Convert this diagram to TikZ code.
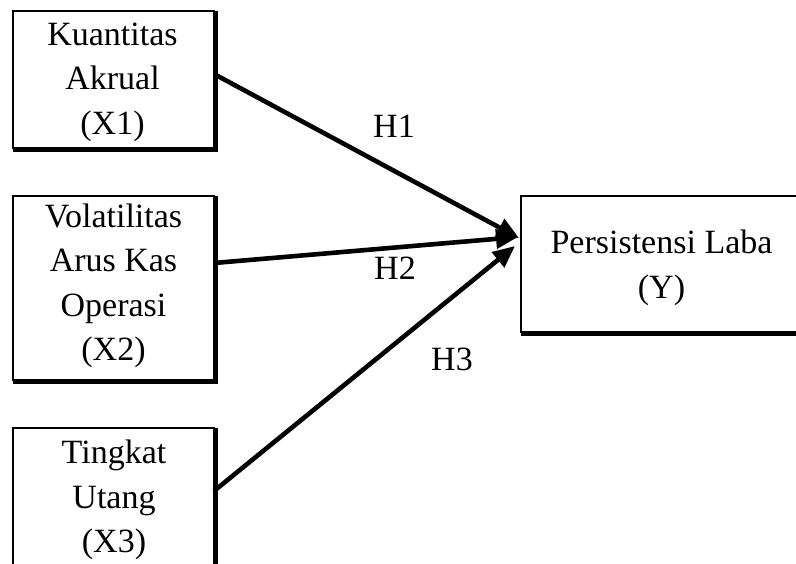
\documentclass[tikz,border=0pt]{standalone}
\usepackage{fontspec}
\setmainfont{Liberation Serif}
\usetikzlibrary{arrows.meta,calc}
\tikzset{
  boxshape/.style={draw=black, line width=1.6pt, rectangle, inner sep=0pt, outer sep=0pt},
  shadowline/.style={draw=black, line width=3.8pt},
  boxtext/.style={align=center, inner sep=0pt, font=\fontsize{34}{44.5}\selectfont},
  hlabel/.style={inner sep=0pt, font=\fontsize{34}{40}\selectfont},
  link/.style={draw=black, line width=4.6pt, -{Triangle[length=22pt,width=19pt]}}
}
\begin{document}
\begin{tikzpicture}[x=1pt,y=-1pt]
\useasboundingbox (0,0) rectangle (796,563);
\clip (0,0) rectangle (796,563);
\fill[white] (0,0) rectangle (796,563);
% boxes
\node[boxshape, minimum width=201pt, minimum height=137pt] (x1) at (113.5,79.5) {};
\node[boxshape, minimum width=201pt, minimum height=184pt] (x2) at (113.5,288) {};
\node[boxshape, minimum width=201pt, minimum height=172pt] (x3) at (113.5,514) {};
\node[boxshape, minimum width=284pt, minimum height=136pt] (y) at (663,264) {};
% shadows (thick right and bottom edges)
\foreach \b in {x1,x2,x3,y}{
  \draw[shadowline] ($(\b.north east)+(2,-0.5)$) -- ($(\b.south east)+(2,2)$) -- ($(\b.south west)+(-0.5,2)$);
}
% texts
\node[boxtext] (t1) at (112.5,82.3) {Kuantitas\\Akrual\\(X1)};
\node[boxtext] (t2) at (113.5,285.6) {Volatilitas\\Arus Kas\\Operasi\\(X2)};
\node[boxtext] (t3) at (114,499.9) {Tingkat\\Utang\\(X3)};
\node[boxtext] (ty) at (661.5,267.9) {Persistensi Laba\\(Y)};
% connectors
\draw[link] ([yshift=5.5pt]x1.east) -- ([xshift=-2pt,yshift=26pt]y.west);
\draw[link] ([yshift=25pt]x2.east) -- ([xshift=-3pt,yshift=27pt]y.west);
\draw[link] ([yshift=23pt]x3.east) -- ([xshift=-6pt,yshift=18pt]y.west);
% labels
\node[hlabel] (h1) at (394,126) {H1};
\node[hlabel] (h2) at (395,268) {H2};
\node[hlabel] (h3) at (452,359) {H3};
\end{tikzpicture}
\end{document}
